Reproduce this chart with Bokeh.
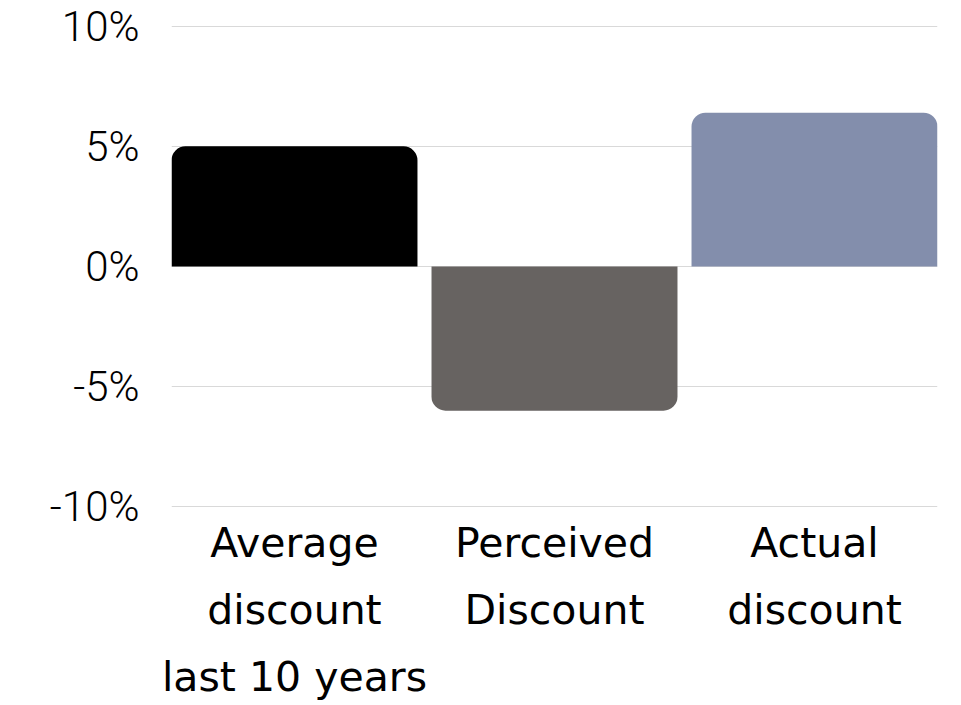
from bokeh.plotting import figure
from bokeh.models import ColumnDataSource, Range1d, FixedTicker, CDSView, BooleanFilter
from bokeh.embed import file_html
from bokeh.resources import INLINE

categories = ["Average\ndiscount\nlast 10 years", "Perceived\nDiscount", "Actual\ndiscount"]
values = [5.0, -6.0, 6.4]
colors = ["#000000", "#676361", "#838eac"]
y_ticks = [-10, -5, 0, 5, 10]
y_tick_labels = ["-10%", "-5%", "0%", "5%", "10%"]

bar_width = 0.946
n = len(categories)
xs = list(range(n))

p = figure(width=950, height=703, output_backend="svg", toolbar_location=None,
           x_range=Range1d(-bar_width / 2, n - 1 + bar_width / 2),
           y_range=Range1d(-10.03, 10.03),
           min_border_left=171, min_border_right=13, min_border_top=25, min_border_bottom=195)
p.outline_line_color = None

pos = [v >= 0 for v in values]
neg = [v < 0 for v in values]
src = ColumnDataSource(dict(x=xs, top=[max(v, 0) for v in values],
                            bottom=[min(v, 0) for v in values], color=colors))

p.vbar(x="x", top="top", bottom="bottom", width=bar_width, fill_color="color", line_color=None,
       source=src, view=CDSView(filter=BooleanFilter(pos)), border_radius=(14, 14, 0, 0))
p.vbar(x="x", top="top", bottom="bottom", width=bar_width, fill_color="color", line_color=None,
       source=src, view=CDSView(filter=BooleanFilter(neg)), border_radius=(0, 0, 14, 14))

p.xgrid.visible = False
p.ygrid.ticker = FixedTicker(ticks=y_ticks)
p.ygrid.grid_line_color = "#d9d9d9"
p.ygrid.grid_line_width = 1

p.yaxis.ticker = FixedTicker(ticks=y_ticks)
p.yaxis.major_label_overrides = {t: l for t, l in zip(y_ticks, y_tick_labels)}
p.yaxis.axis_line_color = None
p.yaxis.major_tick_line_color = None
p.yaxis.minor_tick_line_color = None
p.yaxis.major_tick_out = 0
p.yaxis.major_tick_in = 0
p.yaxis.major_label_text_font = "Roboto Light"
p.yaxis.major_label_text_font_size = "42px"
p.yaxis.major_label_text_color = "#000000"
p.yaxis.major_label_standoff = 32

p.xaxis.ticker = FixedTicker(ticks=xs)
p.xaxis.major_label_overrides = {x: c for x, c in zip(xs, categories)}
p.xaxis.axis_line_color = None
p.xaxis.major_tick_line_color = None
p.xaxis.minor_tick_line_color = None
p.xaxis.major_tick_out = 0
p.xaxis.major_tick_in = 0
p.xaxis.major_label_text_font = "DejaVu Sans"
p.xaxis.major_label_text_font_size = "41px"
p.xaxis.major_label_text_color = "#000000"
p.xaxis.major_label_text_line_height = 1.4
p.xaxis.major_label_standoff = 11

open("out.html", "w").write(file_html(p, INLINE))
